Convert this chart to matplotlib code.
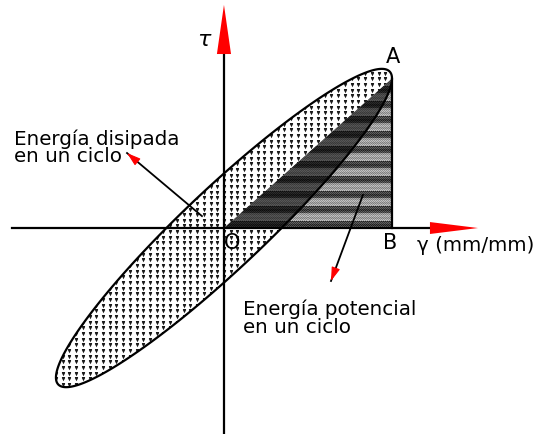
import numpy as np
import matplotlib.pyplot as plt
from matplotlib.patches import Polygon, FancyArrowPatch

plt.rcParams['font.family'] = ['DejaVu Sans']

# hysteresis loop: gamma = G0 sin(wt), tau = T0 sin(wt + delta)
GAMMA_0 = 1.0
TAU_0 = 1.04
DELTA = 0.35  # phase lag (rad)

# point A: maximum strain, and its stress
gamma_A = GAMMA_0
tau_A = TAU_0 * np.cos(DELTA)

# frame of the diagram (gamma / tau units)
x_lim = (-1.333, 1.875)
y_lim = (-1.346, 1.490)
h_axis = (-1.262, 1.226, 1.512)   # start, arrow base, arrow tip
v_axis = (-1.346, 1.137, 1.458)

labels = {
    "A": (1.006, 1.118),
    "B": (0.988, -0.098),
    "O": (0.048, -0.098),
}
note_dissipated = "Energía disipada\nen un ciclo"
note_potential = "Energía potencial\nen un ciclo"
arrow_dissipated = ((-0.131, 0.078), (-0.577, 0.490))
arrow_potential = ((0.827, 0.216), (0.637, -0.346))

fig = plt.figure(figsize=(5.39, 4.34), dpi=100)
ax = fig.add_axes([0, 0, 1, 1])
ax.set_xlim(*x_lim)
ax.set_ylim(*y_lim)
ax.axis("off")

t = np.linspace(0, 2 * np.pi, 400)
loop = np.column_stack([GAMMA_0 * np.cos(t), TAU_0 * np.cos(t - DELTA)])

# dotted loop area
loop_fill = Polygon(loop, closed=True, facecolor="white", edgecolor="none", zorder=1)
ax.add_patch(loop_fill)
gx, gy = np.meshgrid(np.arange(-1.0, 1.0, 0.040), np.arange(-1.1, 1.1, 0.037))
dots = ax.scatter(gx.ravel(), gy.ravel(), s=6.5, marker="v", color="#1a1a1a",
                  linewidths=0, zorder=1.5)
dots.set_clip_path(loop_fill)

# banded fill of the triangle OAB
tri = Polygon([(0, 0), (gamma_A, tau_A), (gamma_A, 0)], closed=True,
              facecolor="none", edgecolor="none", zorder=2)
ax.add_patch(tri)
rows, cols = 160, 170
yy, xx = np.mgrid[0:rows, 0:cols]
bands = np.where((yy // 8) % 2 == 0, 0.2, 0.58)
tex = bands + 0.18 * ((yy + xx) % 2) - 0.08 * ((yy // 2) % 2)
img = ax.imshow(tex, cmap="gray", vmin=0, vmax=1, extent=(0, gamma_A, 0, tau_A),
                origin="lower", aspect="auto", interpolation="nearest", zorder=2)
img.set_clip_path(tri)

# darker where the triangle overlaps the loop
shade = Polygon(loop, closed=True, facecolor="black", alpha=0.55,
                edgecolor="none", zorder=3)
ax.add_patch(shade)
shade.set_clip_path(tri)

ax.add_patch(Polygon(loop, closed=True, facecolor="none", edgecolor="black",
                     linewidth=1.6, zorder=4))
ax.plot([gamma_A, gamma_A], [0, tau_A], color="black", linewidth=1.6, zorder=4)

# axes with red arrowheads
ax.plot([h_axis[0], h_axis[1]], [0, 0], color="black", linewidth=1.6, zorder=5)
ax.plot([0, 0], [v_axis[0], v_axis[1]], color="black", linewidth=1.6, zorder=5)
ax.add_patch(Polygon([(h_axis[1], 0.039), (h_axis[2], 0), (h_axis[1], -0.039)],
                     closed=True, color="#ff0000", linewidth=0, zorder=6))
ax.add_patch(Polygon([(-0.042, v_axis[1]), (0, v_axis[2]), (0.042, v_axis[1])],
                     closed=True, color="#ff0000", linewidth=0, zorder=6))

ax.text(-0.113, 1.229, r"$\tau$", fontsize=16, ha="center", va="center")
ax.text(1.149, -0.111, "γ (mm/mm)", fontsize=14.3, ha="left", va="center")
for name, (x, y) in labels.items():
    ax.text(x, y, name, fontsize=15, ha="center", va="center")


def pointer(tail, tip, head_frac):
    (x0, y0), (x1, y1) = tail, tip
    ax.plot([x0, x1], [y0, y1], color="black", linewidth=1.3, zorder=7)
    xs = x1 - head_frac * (x1 - x0)
    ys = y1 - head_frac * (y1 - y0)
    ax.add_patch(FancyArrowPatch((xs, ys), (x1, y1),
                                 arrowstyle="-|>,head_length=0.7,head_width=0.22",
                                 mutation_scale=12, color="#ff0000",
                                 linewidth=0.8, shrinkA=0, shrinkB=0, zorder=8))


pointer(*arrow_dissipated, head_frac=0.09)
pointer(*arrow_potential, head_frac=0.11)

ax.text(-1.25, 0.523, note_dissipated, fontsize=14.3, ha="left", va="center",
        linespacing=0.9)
ax.text(0.113, -0.588, note_potential, fontsize=14.3, ha="left", va="center",
        linespacing=0.9)

fig.savefig("out.png", dpi=100)
